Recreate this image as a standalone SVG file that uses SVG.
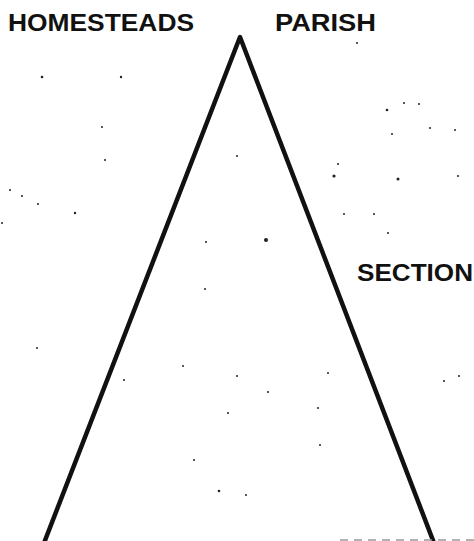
<svg xmlns="http://www.w3.org/2000/svg" width="474" height="541" viewBox="0 0 474 541">
<style>
.lbl{font-family:"Liberation Sans","DejaVu Sans",sans-serif;font-weight:bold;font-size:23px;fill:#111}
.edge{stroke:#111;stroke-width:4.5;fill:none;stroke-linecap:round;stroke-linejoin:round}
.dot{fill:#222}
</style>
<rect width="474" height="541" fill="#fff"/>
<g id="homesteads"><text class="lbl" x="8" y="31" textLength="186" lengthAdjust="spacingAndGlyphs">HOMESTEADS</text></g>
<g id="parish"><text class="lbl" x="275" y="31" textLength="101" lengthAdjust="spacingAndGlyphs">PARISH</text></g>
<g id="section"><text class="lbl" x="357" y="281" textLength="116" lengthAdjust="spacingAndGlyphs">SECTION</text></g>
<g id="connectors">
<polyline class="edge" points="44,543 240,37 434,543"/>
<line x1="340" y1="540" x2="474" y2="540" stroke="#999" stroke-width="1.5" stroke-dasharray="8,6"/>
</g>
<g id="specks">
<circle class="dot" cx="42" cy="77" r="1.3"/><circle class="dot" cx="121" cy="77" r="1.2"/>
<circle class="dot" cx="357" cy="43" r="1"/><circle class="dot" cx="102" cy="127" r="1"/>
<circle class="dot" cx="105" cy="160" r="1"/><circle class="dot" cx="237" cy="156" r="1"/>
<circle class="dot" cx="387" cy="110" r="1.3"/><circle class="dot" cx="404" cy="103" r="1"/>
<circle class="dot" cx="419" cy="104" r="1"/><circle class="dot" cx="430" cy="128" r="1"/>
<circle class="dot" cx="455" cy="130" r="1"/><circle class="dot" cx="392" cy="134" r="1"/>
<circle class="dot" cx="334" cy="176" r="1.6"/><circle class="dot" cx="338" cy="164" r="1"/>
<circle class="dot" cx="398" cy="179" r="1.5"/><circle class="dot" cx="458" cy="176" r="1"/>
<circle class="dot" cx="344" cy="214" r="1"/><circle class="dot" cx="374" cy="214" r="1"/>
<circle class="dot" cx="388" cy="233" r="1"/><circle class="dot" cx="10" cy="190" r="1"/>
<circle class="dot" cx="22" cy="196" r="1"/><circle class="dot" cx="38" cy="204" r="1"/>
<circle class="dot" cx="75" cy="213" r="1.2"/><circle class="dot" cx="2" cy="223" r="1"/>
<circle class="dot" cx="206" cy="242" r="1"/><circle class="dot" cx="266" cy="240" r="2"/>
<circle class="dot" cx="205" cy="289" r="1"/><circle class="dot" cx="37" cy="348" r="1"/>
<circle class="dot" cx="124" cy="380" r="1"/><circle class="dot" cx="183" cy="366" r="1"/>
<circle class="dot" cx="237" cy="376" r="1"/><circle class="dot" cx="328" cy="373" r="1"/>
<circle class="dot" cx="268" cy="392" r="1"/><circle class="dot" cx="228" cy="413" r="1"/>
<circle class="dot" cx="318" cy="408" r="1"/><circle class="dot" cx="444" cy="381" r="1"/>
<circle class="dot" cx="459" cy="376" r="1"/><circle class="dot" cx="219" cy="491" r="1.3"/>
<circle class="dot" cx="246" cy="495" r="1"/><circle class="dot" cx="320" cy="445" r="1"/>
<circle class="dot" cx="194" cy="460" r="1"/>
</g>
</svg>
